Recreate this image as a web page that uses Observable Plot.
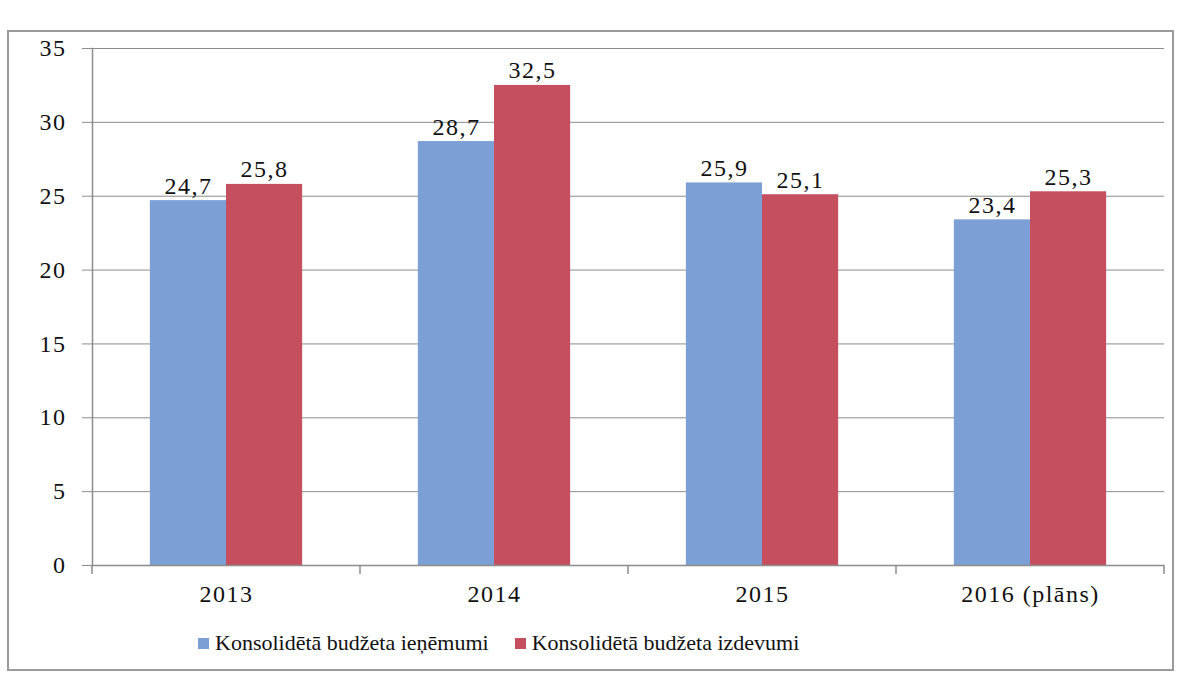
<!DOCTYPE html>
<html><head><meta charset="utf-8">
<script src="https://cdn.jsdelivr.net/npm/d3@7"></script>
<script src="https://cdn.jsdelivr.net/npm/@observablehq/plot@0.6"></script>
<style>
body{margin:0;background:#fff;font-family:'Liberation Serif',serif;}
#wrap{position:relative;width:1185px;height:679px;overflow:hidden;background:#fff;}
#border{position:absolute;left:7px;top:30px;width:1167px;height:641px;border:2px solid #9a9a9a;box-sizing:border-box;}
#chart{position:absolute;left:0;top:0;}
#chart svg text{font-family:'Liberation Serif',serif;letter-spacing:1.5px;}
#legend{position:absolute;top:630px;left:198px;font-family:'Liberation Serif',serif;font-size:22px;display:flex;gap:26px;align-items:center;color:#111;}
#legend .item{display:flex;align-items:center;gap:6px;}
#legend .sw{width:11px;height:11px;display:inline-block;}
</style></head>
<body>
<div id="wrap">
  <div id="border"></div>
  <div id="chart"></div>
  <div id="legend"></div>
</div>
<script>
const years = ["2013", "2014", "2015", "2016 (plāns)"];
const revenue = [24.7, 28.7, 25.9, 23.4];
const expenditure = [25.8, 32.5, 25.1, 25.3];
const seriesNames = ["Konsolidētā budžeta ieņēmumi", "Konsolidētā budžeta izdevumi"];
const colors = ["#7c9fd5", "#c54f5e"];
const yTicks = [0, 5, 10, 15, 20, 25, 30, 35];

const data = years.flatMap((yr, i) => [
  {year: yr, series: seriesNames[0], value: revenue[i]},
  {year: yr, series: seriesNames[1], value: expenditure[i]}
]);
const fmt = v => v.toFixed(1).replace(".", ",");
const gridColor = "#8c8c8c";

const chart = Plot.plot({
  width: 1185, height: 620,
  marginLeft: 91, marginRight: 21, marginTop: 48, marginBottom: 55,
  style: {fontFamily: "'Liberation Serif', serif", fontSize: "24px", color: "#111", background: "transparent"},
  fx: {domain: years, padding: 0, label: null, axis: null},
  x: {domain: seriesNames, paddingInner: 0, paddingOuter: 0.76, axis: null, round: false},
  y: {domain: [0, 35], label: null, axis: null},
  color: {domain: seriesNames, range: colors},
  marks: [
    Plot.gridY(yTicks, {stroke: gridColor, strokeOpacity: 1, strokeWidth: 1}),
    Plot.frame({anchor: "left", facetAnchor: "left", stroke: gridColor, strokeWidth: 1.5}),
    Plot.barY(data, {fx: "year", x: "series", y: "value", fill: "series"}),
    Plot.ruleY([0], {stroke: gridColor, strokeWidth: 1.5}),
    Plot.text(data, {fx: "year", x: "series", y: "value", text: d => fmt(d.value), lineAnchor: "bottom", dy: -7, fontSize: 24, fill: "#111"}),
    Plot.axisY({ticks: yTicks, tickSize: 10, tickPadding: 16, stroke: gridColor, label: null, fontSize: 24}),
    Plot.axisFx({anchor: "bottom", tickSize: 0, tickPadding: 19, label: null, fontSize: 24})
  ]
});
document.getElementById("chart").appendChild(chart);

// boundary tick marks on the category axis
const fxs = chart.scale("fx");
const ys = chart.scale("y");
const y0 = ys.apply(0);
const bounds = years.map(y => fxs.apply(y)).concat([fxs.apply(years[years.length - 1]) + fxs.bandwidth]);
d3.select(chart).append("g")
  .attr("stroke", gridColor).attr("stroke-width", 1.5)
  .selectAll("line").data(bounds).join("line")
  .attr("x1", d => d).attr("x2", d => d)
  .attr("y1", y0).attr("y2", y0 + 9);

// legend
const leg = d3.select("#legend");
seriesNames.forEach((s, i) => {
  const it = leg.append("div").attr("class", "item");
  it.append("span").attr("class", "sw").style("background", colors[i]);
  it.append("span").text(s);
});
</script>
</body></html>
